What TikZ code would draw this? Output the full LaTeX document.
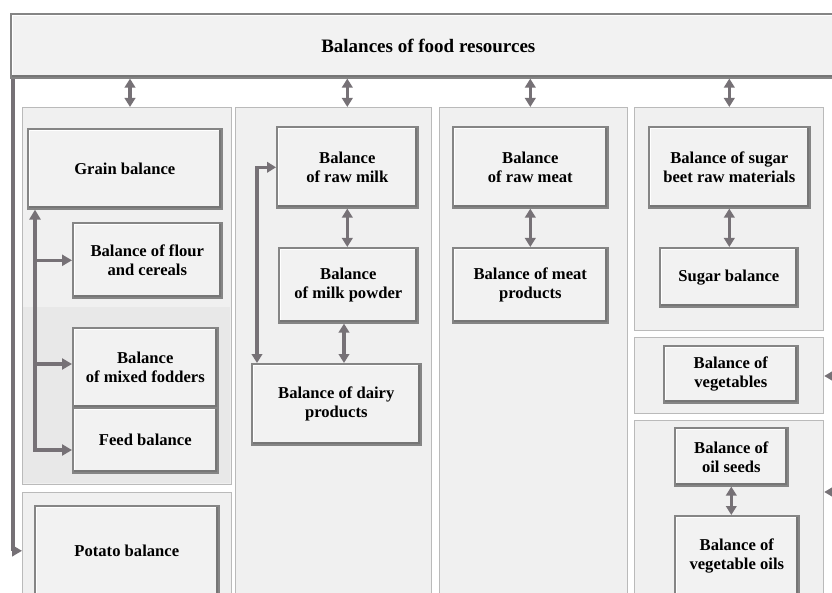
\documentclass[tikz,border=0pt]{standalone}
\usepackage{fontspec}
\setmainfont{Liberation Serif}
\usetikzlibrary{positioning}
\usetikzlibrary{arrows.meta}

\definecolor{boxFill}{HTML}{F2F2F2}
\definecolor{boxEdge}{HTML}{858585}
\definecolor{boxShade}{HTML}{767676}
\definecolor{groupFill}{HTML}{F0F0F0}
\definecolor{groupShade}{HTML}{E8E8E8}
\definecolor{groupEdge}{HTML}{BABABA}
\definecolor{arrowGray}{HTML}{767176}

\begin{document}
\begin{tikzpicture}[x=1pt, y=-1pt,
    balanceBox/.style={draw=boxEdge, line width=1.6pt, fill=boxFill, anchor=north west,
      align=center, inner sep=2pt, font=\bfseries\fontsize{16.6}{19}\selectfont,
      path picture={
        \draw[white, line width=4pt] (path picture bounding box.south west) -- (path picture bounding box.north west) -- (path picture bounding box.north east);
        \draw[boxShade, line width=6pt] (path picture bounding box.south west) -- (path picture bounding box.south east) -- (path picture bounding box.north east);
      }},
    groupPanel/.style={draw=groupEdge, line width=1.2pt, fill=groupFill, anchor=north west,
      inner sep=0pt},
    arrowLine/.style={draw=arrowGray, line width=3.4pt, line join=miter},
    toArrow/.style={arrowLine, -{Triangle[width=11pt, length=10pt]}},
    bothArrow/.style={arrowLine, {Triangle[width=10.5pt, length=9pt]}-{Triangle[width=10.5pt, length=9pt]}},
  ]
    \useasboundingbox (0,0) rectangle (832,593);
    \clip (0,0) rectangle (832,593);
    \fill[white] (0,0) rectangle (832,593);

    % head of the scheme
    \node[balanceBox, minimum width=835pt, minimum height=64pt, font=\bfseries\fontsize{19}{22}\selectfont] (top) at (10,13) {Balances of food resources};

    % panels
    \node[groupPanel, minimum width=209pt, minimum height=377pt] (grain_group) at (22,107) {};
    \fill[groupShade] (23,307) rectangle (230,483);
    \node[groupPanel, minimum width=209pt, minimum height=130pt] (potato_group) at (22,492) {};
    \node[groupPanel, minimum width=196pt, minimum height=520pt] (milk_group) at (235,107) {};
    \node[groupPanel, minimum width=188pt, minimum height=520pt] (meat_group) at (439,107) {};
    \node[groupPanel, minimum width=189pt, minimum height=223pt] (sugar_group) at (634,107) {};
    \node[groupPanel, minimum width=189pt, minimum height=76pt] (veg_group) at (634,337) {};
    \node[groupPanel, minimum width=189pt, minimum height=200pt] (oil_group) at (634,420) {};

    % grain
    \node[balanceBox, minimum width=194pt, minimum height=80pt] (grain) at (27,128) {Grain balance};
    \node[balanceBox, minimum width=149pt, minimum height=75pt] (flour) at (72,222) {Balance of flour\\and cereals};
    \node[balanceBox, minimum width=145pt, minimum height=80pt] (mixed_fodders) at (72,327) {Balance\\of mixed fodders};
    \node[balanceBox, minimum width=145pt, minimum height=65pt] (feed) at (72,407) {Feed balance};
    \node[balanceBox, minimum width=184pt, minimum height=90pt] (potato) at (34,505) {Potato balance};

    % milk
    \node[balanceBox, minimum width=141pt, minimum height=81pt] (raw_milk) at (276,126) {Balance\\of raw milk};
    \node[balanceBox, minimum width=139pt, minimum height=75pt] (milk_powder) at (278,247) {Balance\\of milk powder};
    \node[balanceBox, minimum width=169pt, minimum height=81pt] (dairy) at (251,363) {Balance of dairy\\products};

    % meat
    \node[balanceBox, minimum width=155pt, minimum height=81pt] (raw_meat) at (452,126) {Balance\\of raw meat};
    \node[balanceBox, minimum width=155pt, minimum height=75pt] (meat_products) at (452,247) {Balance of meat\\products};

    % sugar, vegetables, oils
    \node[balanceBox, minimum width=161pt, minimum height=81pt] (sugar_beet) at (648,126) {Balance of sugar\\beet raw materials};
    \node[balanceBox, minimum width=138pt, minimum height=59pt] (sugar) at (659,247) {Sugar balance};
    \node[balanceBox, minimum width=134pt, minimum height=57pt] (vegetables) at (663,345) {Balance of\\vegetables};
    \node[balanceBox, minimum width=113pt, minimum height=58pt] (oil_seeds) at (674,427) {Balance of\\oil seeds};
    \node[balanceBox, minimum width=124pt, minimum height=80pt] (veg_oils) at (674,515) {Balance of\\vegetable oils};

    % links from the head
    \draw[bothArrow] (top.south -| 130,0) -- (grain_group.north -| 130,0);
    \draw[bothArrow] (top.south -| raw_milk.north) -- (milk_group.north -| raw_milk.north);
    \draw[bothArrow] (top.south -| raw_meat.north) -- (meat_group.north -| raw_meat.north);
    \draw[bothArrow] (top.south -| sugar_beet.north) -- (sugar_group.north -| sugar_beet.north);

    \coordinate (head_bus) at (13,0);
    \draw[toArrow] (top.south -| head_bus) |- (potato_group.west |- potato);

    % grain branches
    \coordinate (grain_bus) at (35,450);
    \draw[toArrow] (grain_bus) -- (grain_bus |- grain.south);
    \draw[toArrow] (grain_bus |- flour.west) -- (flour.west);
    \draw[toArrow] (grain_bus |- 0,364) -- (mixed_fodders.west |- 0,364);
    \draw[toArrow] ([xshift=-1.7pt]grain_bus) -- (feed.west |- grain_bus);

    % milk chain
    \coordinate (milk_loop) at (257,0);
    \draw[bothArrow] (raw_milk.west) -| (milk_loop |- dairy.north);
    \draw[bothArrow] (raw_milk.south) -- (raw_milk.south |- milk_powder.north);
    \draw[bothArrow] (milk_powder.south -| 344,0) -- (dairy.north -| 344,0);

    % meat, sugar, oils
    \draw[bothArrow] (raw_meat.south) -- (raw_meat.south |- meat_products.north);
    \draw[bothArrow] (sugar_beet.south) -- (sugar_beet.south |- sugar.north);
    \draw[bothArrow] (oil_seeds.south) -- (oil_seeds.south |- veg_oils.north);

    % inputs from the right
    \coordinate (veg_in) at (850,376);
    \coordinate (oil_in) at (850,492);
    \draw[toArrow] (veg_in) -- (veg_group.east |- veg_in);
    \draw[toArrow] (oil_in) -- (oil_group.east |- oil_in);
  \end{tikzpicture}
\end{document}
